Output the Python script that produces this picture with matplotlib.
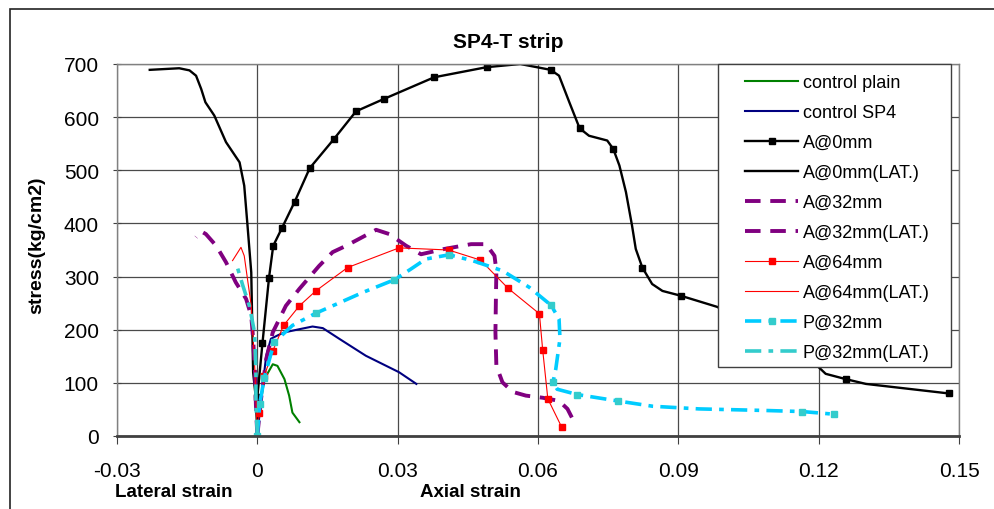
import matplotlib
matplotlib.use("Agg")
import matplotlib.pyplot as plt
from matplotlib.patches import Rectangle

plt.rcParams['font.family'] = ['Liberation Sans', 'DejaVu Sans']

# ---- data (strain, stress kg/cm2) ----
plain_x = [0, 0.0005, 0.0015, 0.0033, 0.0043, 0.0058, 0.0068, 0.0075, 0.0090]
plain_y = [0, 50, 107, 135, 132, 107, 76, 44, 26]

sp4_x = [0, 0.0008, 0.0019, 0.0029, 0.0045, 0.0058, 0.0090, 0.0118, 0.0140,
         0.0175, 0.0232, 0.0303, 0.0340]
sp4_y = [0, 70, 151, 183, 190, 195, 201, 206, 203, 183, 151, 120, 98]

a0_x = [0.0, 0.0, 0.0011, 0.0025, 0.0034, 0.0053, 0.0080, 0.0112, 0.0163,
        0.0211, 0.0270, 0.0378, 0.0490, 0.0562, 0.0627, 0.0645, 0.0667,
        0.0689, 0.0709, 0.0748, 0.0761, 0.0774, 0.0788, 0.0801, 0.0809,
        0.0823, 0.0844, 0.0866, 0.0905, 0.0983, 0.1100, 0.1197, 0.1215,
        0.1258, 0.1301, 0.1479]
a0_y = [0, 73, 175, 298, 358, 392, 441, 504, 558, 611, 634, 675, 694, 700,
        689, 678, 628, 579, 565, 556, 540, 509, 459, 396, 352, 317, 286, 273,
        264, 243, 185, 132, 117, 107, 98, 80]
a0_marks = [1, 2, 3, 4, 5, 6, 7, 8, 9, 10, 11, 12, 14, 17, 20, 25, 28, 33, 35]

a0l_x = [0, -0.0003, -0.0009, -0.0013, -0.0021, -0.0028, -0.0038, -0.0067,
         -0.0092, -0.0111, -0.0120, -0.0131, -0.0145, -0.0167, -0.0230]
a0l_y = [0, 70, 120, 308, 396, 471, 515, 553, 603, 628, 653, 678, 688, 692,
         689]

a32_x = [0, 0.0008, 0.0019, 0.0033, 0.0061, 0.0090, 0.0132, 0.0161, 0.0190,
         0.0254, 0.0282, 0.0318, 0.0350, 0.0400, 0.0457, 0.0489, 0.0507,
         0.0511, 0.0510, 0.0509, 0.0511, 0.0524, 0.0546, 0.0574, 0.0610,
         0.0645, 0.0663, 0.0674]
a32_y = [0, 70, 145, 195, 245, 277, 320, 346, 358, 388, 380, 358, 342, 352,
         361, 361, 339, 311, 258, 195, 132, 101, 83, 76, 72, 66, 51, 32]

a32l_x = [0, -0.0003, -0.0005, -0.0009, -0.0013, -0.0024, -0.0046, -0.0067,
          -0.0088, -0.0110, -0.0120, -0.0131]
a32l_y = [0, 57, 120, 183, 226, 258, 289, 327, 358, 380, 385, 374]

a64_x = [0, 0.0004, 0.0015, 0.0033, 0.0056, 0.0090, 0.0125, 0.0193, 0.0303,
         0.0409, 0.0477, 0.0536, 0.0603, 0.0610, 0.0621, 0.0651]
a64_y = [0, 44, 113, 160, 208, 245, 273, 317, 354, 350, 331, 278, 230, 162,
         70, 16]

a64l_x = [0, -0.0005, -0.0009, -0.0013, -0.0021, -0.0028, -0.0035, -0.0053]
a64l_y = [0, 120, 183, 245, 295, 339, 355, 330]

p32_x = [0, 0.0005, 0.0015, 0.0036, 0.0075, 0.0125, 0.0161, 0.0225, 0.0293,
         0.0328, 0.0360, 0.0410, 0.0460, 0.0524, 0.0581, 0.0628, 0.0645,
         0.0647, 0.0638, 0.0632, 0.0641, 0.0684, 0.0770, 0.0845, 0.0944,
         0.1087, 0.1165, 0.1233]
p32_y = [0, 60, 110, 176, 208, 231, 245, 270, 294, 314, 333, 341, 330, 311,
         280, 246, 220, 183, 126, 101, 88, 78, 66, 56, 51, 48, 46, 41]
p32_marks = [0, 1, 2, 3, 5, 8, 11, 15, 19, 21, 22, 26, 27]

p32l_x = [0, -0.0003, -0.0003, -0.0006, -0.0017, -0.0031, -0.0046]
p32l_y = [0, 60, 120, 195, 245, 283, 327]

xticks = [-0.03, 0, 0.03, 0.06, 0.09, 0.12, 0.15]
xlabels = ['-0.03', '0', '0.03', '0.06', '0.09', '0.12', '0.15']
yticks = [0, 100, 200, 300, 400, 500, 600, 700]

fig = plt.figure(figsize=(9.95, 5.10), dpi=100)
ax = fig.add_axes([117/995, 73/510, 842/995, 372/510])

ax.plot(plain_x, plain_y, color='#008000', lw=1.5, label='control plain')
ax.plot(sp4_x, sp4_y, color='#000080', lw=1.5, label='control SP4')
ax.plot(a0_x, a0_y, color='black', lw=1.7, marker='s', ms=4,
        markevery=a0_marks, label='A@0mm')
ax.plot(a0l_x, a0l_y, color='black', lw=1.7, label='A@0mm(LAT.)')
ax.plot(a32_x, a32_y, color='#800080', lw=2.8, dashes=(4, 2.5),
        label='A@32mm')
ax.plot(a32l_x, a32l_y, color='#800080', lw=2.8, dashes=(4, 2.5),
        label='A@32mm(LAT.)')
ax.plot(a64_x, a64_y, color='#ff0000', lw=0.8, marker='s', ms=5,
        markevery=slice(1, None), label='A@64mm')
ax.plot(a64l_x, a64l_y, color='#ff0000', lw=0.8, label='A@64mm(LAT.)')
ax.plot(p32_x, p32_y, color='#00ccff', lw=2.6, dashes=(4.5, 2, 1.3, 2),
        marker='s', ms=5, mfc='#33cccc', mec='#33cccc',
        markevery=p32_marks, label='P@32mm')
ax.plot(p32l_x, p32l_y, color='#33cccc', lw=2.6, dashes=(4.5, 2, 1.3, 2),
        label='P@32mm(LAT.)')

ax.set_xlim(-0.03, 0.15)
ax.set_ylim(0, 700)
ax.set_xticks(xticks)
ax.set_xticklabels(xlabels)
ax.set_yticks(yticks)
ax.tick_params(axis='both', labelsize=15, colors='black')
ax.tick_params(axis='x', direction='out', length=6, pad=12, color='#404040')
ax.tick_params(axis='y', direction='inout', length=6, pad=10, color='#404040')
ax.grid(True, color='#4a4a4a', lw=0.9)
ax.set_axisbelow(True)
for s in ['left', 'right', 'top']:
    ax.spines[s].set_color('#808080')
    ax.spines[s].set_linewidth(1.0)
ax.spines['bottom'].set_color('#404040')
ax.spines['bottom'].set_linewidth(2.0)

# legend box drawn by hand (Excel style: wide side padding)
ax.add_patch(Rectangle((718/995, 1 - 368/510), 233/995, 303/510,
                       transform=fig.transFigure, facecolor='white',
                       edgecolor='#404040', lw=1.0, zorder=4.5,
                       clip_on=False))
leg = ax.legend(loc='upper left', bbox_to_anchor=(745/995, 1 - 75/510),
                bbox_transform=fig.transFigure, borderaxespad=0,
                fontsize=13, frameon=False, handlelength=2.95,
                handletextpad=0.25, labelspacing=0.72, borderpad=0)

fig.text(508/995, 1 - 42/510, 'SP4-T strip', ha='center', va='center',
         fontsize=15, fontweight='bold')
fig.text(37/995, 1 - 245/510, 'stress(kg/cm2)', rotation=90, ha='center',
         va='center', fontsize=14, fontweight='bold')
fig.text(115/995, 1 - 493/510, 'Lateral strain', ha='left', va='center',
         fontsize=13.5, fontweight='bold')
fig.text(420/995, 1 - 493/510, 'Axial strain', ha='left', va='center',
         fontsize=13.5, fontweight='bold')

fig.patches.append(Rectangle((10/995, -0.2), 1.2, 500/510 + 0.2,
                             transform=fig.transFigure, fill=False,
                             edgecolor='#222222', lw=1.2))

fig.savefig('out.png', dpi=100)
